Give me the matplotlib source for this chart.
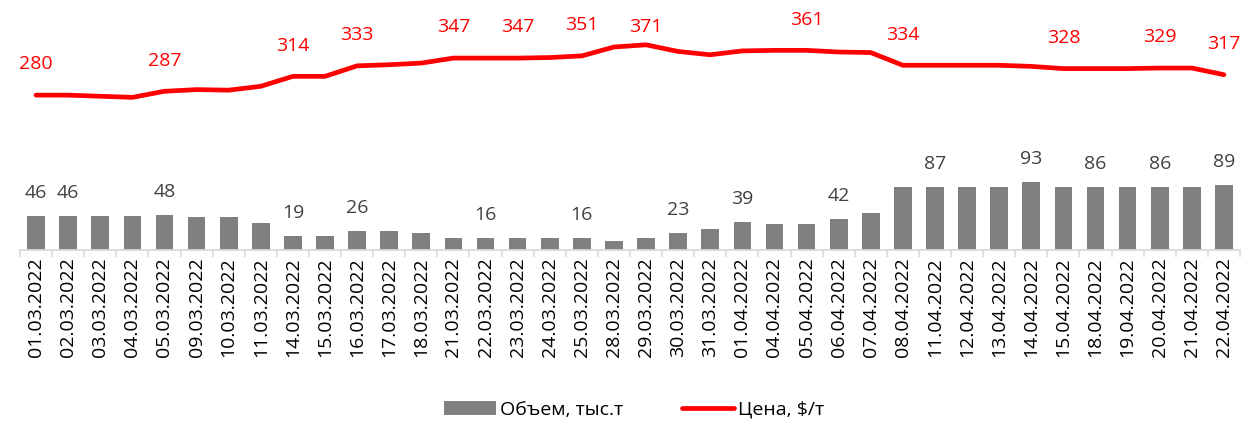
import matplotlib
matplotlib.use("Agg")
import matplotlib.pyplot as plt
import numpy as np

plt.rcParams['font.family'] = ['Open Sans', 'DejaVu Sans']

# Données
dates = ['01.03.2022', '02.03.2022', '03.03.2022', '04.03.2022', '05.03.2022',
         '09.03.2022', '10.03.2022', '11.03.2022', '14.03.2022', '15.03.2022',
         '16.03.2022', '17.03.2022', '18.03.2022', '21.03.2022', '22.03.2022',
         '23.03.2022', '24.03.2022', '25.03.2022', '28.03.2022', '29.03.2022',
         '30.03.2022', '31.03.2022', '01.04.2022', '04.04.2022', '05.04.2022',
         '06.04.2022', '07.04.2022', '08.04.2022', '11.04.2022', '12.04.2022',
         '13.04.2022', '14.04.2022', '15.04.2022', '18.04.2022', '19.04.2022',
         '20.04.2022', '21.04.2022', '22.04.2022']
volume = [46, 46, 46, 46, 48, 45, 45, 37, 19, 19,
          26, 26, 24, 16, 16, 16, 16, 16, 12, 17,
          23, 29, 39, 36, 36, 42, 51, 87, 87, 87,
          87, 93, 86, 86, 86, 86, 86, 89]
price = [280, 280, 278, 276, 287, 290, 289, 296, 314, 314,
         333, 335, 338, 347, 347, 347, 348, 351, 367, 371,
         359, 353, 360, 361, 361, 358, 357, 334, 334, 334,
         334, 332, 328, 328, 328, 329, 329, 317]
# indices des étiquettes affichées
volume_labels = [0, 1, 4, 8, 10, 14, 17, 20, 22, 25, 28, 31, 33, 35, 37]
price_labels = [0, 4, 8, 10, 13, 15, 17, 19, 24, 27, 32, 35, 37]

x = np.arange(len(dates))

fig = plt.figure(figsize=(12.48, 4.26), dpi=100)
ax = fig.add_axes([20 / 1248, 176 / 426, 1220 / 1248, 245 / 426])
ax2 = ax.twinx()

bars = ax.bar(x, volume, width=0.55, color='#808080', label='Объем, тыс.т', zorder=2)
line, = ax2.plot(x, price, color='#ff0000', lw=3.4, solid_capstyle='round',
                 solid_joinstyle='round', label='Цена, $/т')

ax.set_xlim(-0.5, len(dates) - 0.5)
ax.set_ylim(0, 336)
ax2.set_ylim(0, 443)

for i in volume_labels:
    ax.annotate(str(volume[i]), (x[i], volume[i]), xytext=(0, 13),
                textcoords='offset points', ha='center', va='baseline',
                fontsize=14, color='#404040')
for i in price_labels:
    # l'étiquette du maximum est un peu plus basse dans l'original
    dy = 9 if price[i] == max(price) else 18.5
    ax2.annotate(str(price[i]), (x[i], price[i]), xytext=(0, dy),
                 textcoords='offset points', ha='center', va='baseline',
                 fontsize=14, color='#ff0000')

# axes style Excel
for a in (ax, ax2):
    for s in ['top', 'left', 'right']:
        a.spines[s].set_visible(False)
    a.set_yticks([])
ax2.spines['bottom'].set_visible(False)
ax.spines['bottom'].set_color('#d9d9d9')
ax.spines['bottom'].set_linewidth(1.3)

ax.set_xticks(x)
ax.set_xticklabels(dates, rotation=90, fontsize=14, color='#000000')
ax.tick_params(axis='x', which='major', length=0, pad=5)
ax.set_xticks(np.arange(-0.5, len(dates), 1), minor=True)
ax.tick_params(axis='x', which='minor', length=5, width=1.2, color='#d9d9d9')

fig.legend(handles=[bars, line], loc='center', bbox_to_anchor=(0.508, 0.038),
           ncol=2, frameon=False, fontsize=14, handlelength=2.7,
           handleheight=0.75, columnspacing=3.0, handletextpad=0.2)

plt.savefig('out.png', dpi=100)
